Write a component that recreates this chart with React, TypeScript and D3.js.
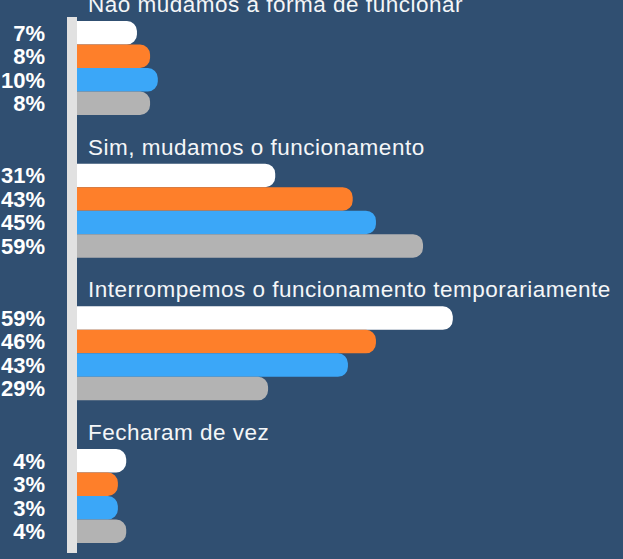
import { useEffect, useRef } from "react";
import * as d3 from "d3";

// Categorias (títulos dos grupos)
const categories = [
  "Não mudamos a forma de funcionar",
  "Sim, mudamos o funcionamento",
  "Interrompemos o funcionamento temporariamente",
  "Fecharam de vez",
];

// Séries (uma cor por barra dentro do grupo)
const series = ["s1", "s2", "s3", "s4"];
const colors = ["#ffffff", "#fe7f2a", "#3ba7f8", "#b3b3b3"];

// Comprimentos das barras (em %)
const values = [
  [6.2, 8.4, 9.7, 8.4],
  [29.4, 42.4, 46.3, 54.2],
  [59.2, 46.3, 41.6, 28.2],
  [4.4, 3.0, 3.0, 4.4],
];

// Rótulos exibidos à esquerda
const labels = [
  ["7%", "8%", "10%", "8%"],
  ["31%", "43%", "45%", "59%"],
  ["59%", "46%", "43%", "29%"],
  ["4%", "3%", "3%", "4%"],
];

const width = 623;
const height = 559;
const axisX = 67;
const barX = 77;
const radius = 10;

export default function App() {
  const ref = useRef<SVGSVGElement>(null);

  useEffect(() => {
    const svg = d3.select(ref.current);
    svg.selectAll("*").remove();

    svg.append("rect")
      .attr("width", width)
      .attr("height", height)
      .attr("fill", "#304f71");

    const x = d3.scaleLinear().domain([0, 60]).range([barX + 23, barX + 23 + 5.96 * 60]);
    const group = d3.scalePoint().domain(categories).range([21, 449]);
    const inner = d3.scaleBand().domain(series).range([0, 94]).paddingInner(0);

    // Eixo vertical
    svg.append("rect")
      .attr("x", axisX)
      .attr("y", 17)
      .attr("width", barX - axisX)
      .attr("height", 536)
      .attr("fill", "#e1e1e1");

    const font = "'Liberation Sans', Arial, Helvetica, sans-serif";

    const g = svg.selectAll("g.group")
      .data(categories)
      .join("g")
      .attr("class", "group")
      .attr("transform", d => `translate(0,${group(d)})`);

    g.append("text")
      .attr("x", 88)
      .attr("y", -9)
      .attr("fill", "#f4f6f8")
      .attr("font-family", font)
      .attr("font-size", 22.5)
      .attr("letter-spacing", 0.5)
      .text(d => d);

    const bw = inner.bandwidth();
    const barPath = (w: number) => {
      const r = Math.min(radius, w / 2);
      return `M${barX},0H${barX + w - r}A${r},${r} 0 0 1 ${barX + w},${r}V${bw - r}A${r},${r} 0 0 1 ${barX + w - r},${bw}H${barX}Z`;
    };

    g.selectAll("path")
      .data((_, i) => values[i].map((v, j) => ({ v, j })))
      .join("path")
      .attr("transform", d => `translate(0,${inner(series[d.j])})`)
      .attr("d", d => barPath(x(d.v) - barX))
      .attr("fill", d => colors[d.j]);

    g.selectAll("text.lbl")
      .data((_, i) => labels[i].map((t, j) => ({ t, j })))
      .join("text")
      .attr("class", "lbl")
      .attr("x", 45)
      .attr("y", d => (inner(series[d.j]) ?? 0) + bw / 2)
      .attr("dy", "0.36em")
      .attr("text-anchor", "end")
      .attr("fill", "#ffffff")
      .attr("font-family", font)
      .attr("font-weight", "bold")
      .attr("font-size", 22)
      .text(d => d.t);
  }, []);

  return (
    <svg
      ref={ref}
      width={width}
      height={height}
      style={{ position: "absolute", left: 0, top: 0 }}
    />
  );
}
